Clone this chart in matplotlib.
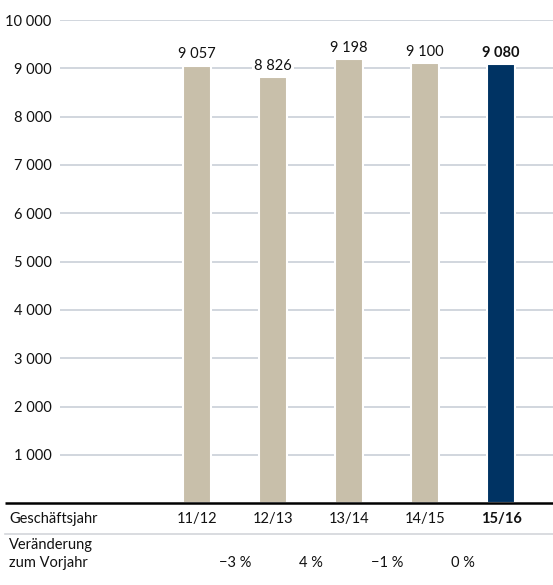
import matplotlib
matplotlib.use('Agg')
import matplotlib.pyplot as plt
from matplotlib.transforms import blended_transform_factory

plt.rcParams['font.family'] = ['Lato', 'DejaVu Sans']

YEARS = ['11/12', '12/13', '13/14', '14/15', '15/16']
VALUES = [9057, 8826, 9198, 9100, 9080]
VALUE_LABELS = ['9 057', '8 826', '9 198', '9 100', '9 080']
CHANGES = ['\u22123 %', '4 %', '\u22121 %', '0 %']
Y_TICKS = [1000, 2000, 3000, 4000, 5000, 6000, 7000, 8000, 9000, 10000]
Y_TICK_LABELS = ['1 000', '2 000', '3 000', '4 000', '5 000',
                 '6 000', '7 000', '8 000', '9 000', '10 000']

BEIGE = '#c8bfaa'
NAVY = '#003363'
GRID = '#c5ccd4'
TEXT = '#111111'
FS = 10.5

W, H = 553, 585
fig = plt.figure(figsize=(W / 100, H / 100), dpi=100)

# axes placed in pixel terms
left, right, top, bottom = 60, 553, 20, 503.3
ax = fig.add_axes([left / W, 1 - bottom / H, (right - left) / W, (bottom - top) / H])

x = list(range(len(YEARS)))
colors = [BEIGE] * (len(YEARS) - 1) + [NAVY]
ax.bar(x, VALUES, width=0.37, color=colors, edgecolor='white', linewidth=1.5, zorder=3)

ax.set_ylim(0, 10000)
ax.set_xlim((left - 197) / 76, (right - 197) / 76)

for y in Y_TICKS:
    ax.axhline(y, color=GRID, linewidth=1.1, zorder=1)

ax.set_yticks(Y_TICKS)
ax.set_yticklabels(Y_TICK_LABELS, fontsize=FS, color=TEXT)
ax.tick_params(axis='y', length=0, pad=6)
ax.set_xticks([])
for s in ax.spines.values():
    s.set_visible(False)

# value labels above bars
for i, (v, lab) in enumerate(zip(VALUES, VALUE_LABELS)):
    last = i == len(VALUES) - 1
    ax.annotate(lab, (i, v), xytext=(0, 3), textcoords='offset points',
                ha='center', va='bottom', fontsize=FS, color=TEXT,
                fontweight='bold' if last else 'normal', zorder=4,
                bbox=dict(facecolor='white', edgecolor='none', pad=1.5))

# baseline and separator
xleft = (5 - left) / (right - left)
ax.plot([xleft, 1], [0, 0], transform=ax.get_yaxis_transform(), color='black',
        linewidth=1.8, clip_on=False, zorder=5, solid_capstyle='butt')
trans = blended_transform_factory(ax.transData, fig.transFigure)
sep_y = 1 - 533.5 / H
ax.plot([xleft, 1], [sep_y, sep_y],
        transform=blended_transform_factory(ax.transAxes, fig.transFigure),
        color='#d3d6da', linewidth=1.2, clip_on=False)

# table below
fig.text(9 / W, 1 - 519 / H, 'Geschäftsjahr', fontsize=FS, color=TEXT, va='center', ha='left')
for i, yr in enumerate(YEARS):
    last = i == len(YEARS) - 1
    ax.text(i, 1 - 519 / H, yr, transform=trans, ha='center', va='center', fontsize=FS,
            color=TEXT, fontweight='bold' if last else 'normal')

fig.text(9 / W, 1 - 545 / H, 'Veränderung', fontsize=FS, color=TEXT, va='center', ha='left')
fig.text(9 / W, 1 - 563 / H, 'zum Vorjahr', fontsize=FS, color=TEXT, va='center', ha='left')
for i, ch in enumerate(CHANGES):
    ax.text(i + 0.5, 1 - 563 / H, ch, transform=trans, ha='center', va='center',
            fontsize=FS, color=TEXT)

fig.savefig('out.png', dpi=100)
